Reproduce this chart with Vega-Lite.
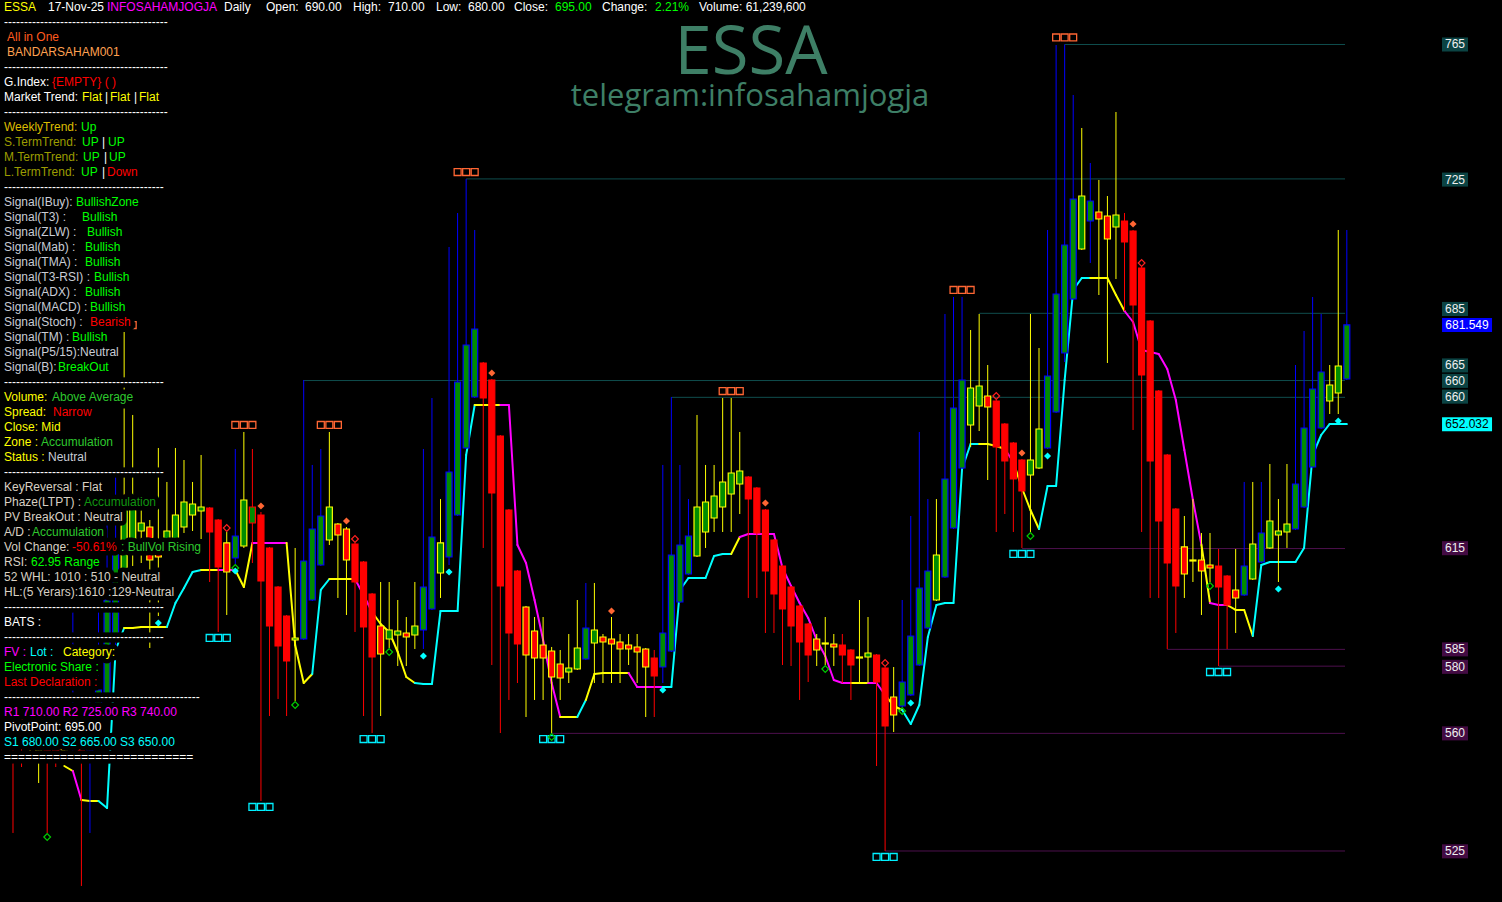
{
"$schema": "https://vega.github.io/schema/vega-lite/v6.json",
"width": 1502, "height": 902, "padding": 0,
"autosize": {"type": "none"},
"background": "#000000",
"config": {"view": {"stroke": null}, "scale": {"continuousPadding": 0}},
"datasets": {
"candles": [
{"i":0,"o":563.98,"h":568.45,"l":530.36,"c":556.54,"k":"RR"},
{"i":1,"o":565.47,"h":567.55,"l":549.99,"c":558.03,"k":"RR"},
{"i":2,"o":556.54,"h":565.47,"l":552.67,"c":562.49,"k":"GY"},
{"i":3,"o":562.49,"h":566.36,"l":545.23,"c":555.05,"k":"RY"},
{"i":4,"o":565.47,"h":566.96,"l":530.36,"c":553.56,"k":"RR","b":"gd"},
{"i":5,"o":558.03,"h":562.49,"l":549.99,"c":552.67,"k":"RR"},
{"i":6,"o":555.05,"h":563.98,"l":552.08,"c":559.52,"k":"GY"},
{"i":7,"o":556.54,"h":596.72,"l":552.67,"c":565.47,"k":"GB"},
{"i":8,"o":563.98,"h":566.36,"l":514.59,"c":552.67,"k":"RR"},
{"i":9,"o":555.05,"h":569.94,"l":530.36,"c":565.47,"k":"GB"},
{"i":10,"o":563.98,"h":596.12,"l":558.03,"c":572.91,"k":"GB"},
{"i":11,"o":571.43,"h":626.47,"l":569.94,"c":599.69,"k":"GB"},
{"i":12,"o":587.79,"h":638.38,"l":584.81,"c":616.06,"k":"GB"},
{"i":13,"o":602.67,"h":679.44,"l":599.69,"c":629.45,"k":"GY","t":"ob"},
{"i":14,"o":617.55,"h":654.75,"l":609.81,"c":629.45,"k":"GY"},
{"i":15,"o":620.22,"h":627.96,"l":610.70,"c":622.60,"k":"GY"},
{"i":16,"o":621.41,"h":623.50,"l":585.41,"c":611.60,"k":"RY"},
{"i":17,"o":614.27,"h":644.93,"l":594.93,"c":612.49,"k":"RY","b":"cd"},
{"i":18,"o":617.55,"h":634.81,"l":616.06,"c":620.22,"k":"GY"},
{"i":19,"o":617.55,"h":644.93,"l":613.08,"c":624.98,"k":"GY"},
{"i":20,"o":621.41,"h":641.35,"l":619.63,"c":628.85,"k":"GY"},
{"i":21,"o":624.98,"h":634.81,"l":620.22,"c":628.26,"k":"GY"},
{"i":22,"o":626.17,"h":642.84,"l":617.84,"c":627.36,"k":"GY"},
{"i":23,"o":627.07,"h":627.36,"l":605.05,"c":619.93,"k":"RR"},
{"i":24,"o":623.50,"h":623.79,"l":590.17,"c":609.51,"k":"RR","b":"cb"},
{"i":25,"o":616.66,"h":619.93,"l":595.23,"c":608.02,"k":"RY","t":"rd"},
{"i":26,"o":612.19,"h":644.63,"l":610.41,"c":618.74,"k":"GB","b":"gd","b2":"cd"},
{"i":27,"o":615.76,"h":649.69,"l":615.17,"c":629.45,"k":"GY","t":"ob"},
{"i":28,"o":622.60,"h":644.63,"l":610.70,"c":627.36,"k":"GR"},
{"i":29,"o":624.98,"h":625.88,"l":539.88,"c":605.35,"k":"RR","t":"od","b":"cb"},
{"i":30,"o":615.17,"h":615.47,"l":565.17,"c":591.96,"k":"RR"},
{"i":31,"o":603.56,"h":603.86,"l":570.24,"c":586.00,"k":"RR"},
{"i":32,"o":594.93,"h":595.23,"l":565.17,"c":581.54,"k":"RR"},
{"i":33,"o":587.79,"h":615.17,"l":569.64,"c":588.38,"k":"GY","b":"gd"},
{"i":34,"o":588.09,"h":665.16,"l":587.79,"c":611.30,"k":"GB"},
{"i":35,"o":599.69,"h":639.87,"l":599.39,"c":620.82,"k":"GB"},
{"i":36,"o":610.11,"h":644.63,"l":609.81,"c":624.69,"k":"GB"},
{"i":37,"o":617.55,"h":649.69,"l":616.06,"c":627.36,"k":"GY","t":"ob"},
{"i":38,"o":622.31,"h":622.60,"l":600.29,"c":619.03,"k":"RY"},
{"i":39,"o":620.82,"h":621.41,"l":595.23,"c":611.60,"k":"RY","t":"od"},
{"i":40,"o":616.36,"h":616.66,"l":590.17,"c":605.05,"k":"RR","t":"rd"},
{"i":41,"o":611.00,"h":611.30,"l":565.17,"c":591.66,"k":"RR"},
{"i":42,"o":601.48,"h":601.78,"l":560.11,"c":582.73,"k":"RR","b":"cb"},
{"i":43,"o":591.96,"h":605.05,"l":565.17,"c":583.62,"k":"RY"},
{"i":44,"o":588.09,"h":605.05,"l":585.41,"c":590.76,"k":"GY","b":"gd"},
{"i":45,"o":589.28,"h":599.69,"l":580.05,"c":590.47,"k":"GY"},
{"i":46,"o":589.87,"h":594.63,"l":580.05,"c":588.68,"k":"RY"},
{"i":47,"o":589.28,"h":605.05,"l":585.11,"c":591.96,"k":"GY"},
{"i":48,"o":590.76,"h":644.63,"l":585.11,"c":603.56,"k":"GB","b":"cd"},
{"i":49,"o":597.01,"h":659.80,"l":596.72,"c":618.44,"k":"GB"},
{"i":50,"o":607.73,"h":629.74,"l":600.29,"c":616.66,"k":"GY"},
{"i":51,"o":612.49,"h":704.74,"l":610.11,"c":637.78,"k":"GB","b":"cd"},
{"i":52,"o":624.98,"h":714.85,"l":624.69,"c":664.56,"k":"GB"},
{"i":53,"o":644.93,"h":724.97,"l":644.63,"c":675.58,"k":"GB","t":"ob"},
{"i":54,"o":660.10,"h":709.80,"l":659.80,"c":680.33,"k":"GB"},
{"i":55,"o":670.22,"h":670.52,"l":615.17,"c":659.80,"k":"RR"},
{"i":56,"o":665.16,"h":665.46,"l":580.35,"c":631.53,"k":"RR","t":"od"},
{"i":57,"o":648.50,"h":648.79,"l":560.11,"c":603.86,"k":"RR"},
{"i":58,"o":626.47,"h":626.77,"l":569.94,"c":589.87,"k":"RR"},
{"i":59,"o":608.32,"h":608.62,"l":574.99,"c":586.60,"k":"RR"},
{"i":60,"o":597.61,"h":597.91,"l":564.87,"c":583.32,"k":"RY"},
{"i":61,"o":590.47,"h":594.63,"l":569.94,"c":582.43,"k":"RY"},
{"i":62,"o":586.30,"h":594.63,"l":569.94,"c":582.43,"k":"RY"},
{"i":63,"o":584.52,"h":585.71,"l":560.11,"c":576.78,"k":"RY","b":"cb","b2":"gd"},
{"i":64,"o":580.65,"h":584.81,"l":569.94,"c":576.48,"k":"RY"},
{"i":65,"o":578.27,"h":589.57,"l":574.99,"c":579.46,"k":"GY"},
{"i":66,"o":579.16,"h":599.69,"l":578.86,"c":585.41,"k":"GY"},
{"i":67,"o":582.13,"h":604.75,"l":581.84,"c":591.36,"k":"GB"},
{"i":68,"o":586.89,"h":604.75,"l":574.99,"c":590.76,"k":"GY"},
{"i":69,"o":588.68,"h":589.57,"l":574.99,"c":587.19,"k":"RY"},
{"i":70,"o":588.09,"h":594.63,"l":574.99,"c":586.60,"k":"RY","t":"od"},
{"i":71,"o":587.19,"h":589.57,"l":574.99,"c":585.11,"k":"RY"},
{"i":72,"o":586.30,"h":589.57,"l":580.35,"c":585.11,"k":"RY"},
{"i":73,"o":585.71,"h":589.57,"l":574.99,"c":584.22,"k":"RY"},
{"i":74,"o":585.11,"h":585.41,"l":564.87,"c":579.75,"k":"RY"},
{"i":75,"o":582.43,"h":584.81,"l":564.87,"c":577.08,"k":"RR"},
{"i":76,"o":579.75,"h":639.87,"l":574.99,"c":589.87,"k":"GB","b":"cd"},
{"i":77,"o":584.52,"h":660.10,"l":584.22,"c":613.08,"k":"GB"},
{"i":78,"o":599.10,"h":639.87,"l":598.80,"c":616.06,"k":"GB"},
{"i":79,"o":607.43,"h":629.74,"l":607.13,"c":618.74,"k":"GB"},
{"i":80,"o":612.79,"h":654.75,"l":612.49,"c":627.36,"k":"GY"},
{"i":81,"o":619.93,"h":639.87,"l":615.17,"c":628.85,"k":"GY"},
{"i":82,"o":624.09,"h":639.87,"l":619.93,"c":630.64,"k":"GY"},
{"i":83,"o":627.36,"h":659.80,"l":619.93,"c":634.81,"k":"GY"},
{"i":84,"o":631.23,"h":659.80,"l":619.93,"c":637.49,"k":"GY","t":"ob"},
{"i":85,"o":634.21,"h":649.69,"l":625.28,"c":638.08,"k":"GY"},
{"i":86,"o":636.29,"h":636.59,"l":600.29,"c":629.74,"k":"RR"},
{"i":87,"o":633.02,"h":633.32,"l":600.29,"c":619.63,"k":"RR"},
{"i":88,"o":626.47,"h":626.77,"l":589.87,"c":608.32,"k":"RR","t":"od"},
{"i":89,"o":617.55,"h":617.84,"l":589.87,"c":601.48,"k":"RR"},
{"i":90,"o":609.81,"h":610.11,"l":580.35,"c":597.01,"k":"RR"},
{"i":91,"o":603.56,"h":603.86,"l":580.05,"c":591.96,"k":"RR"},
{"i":92,"o":597.91,"h":598.20,"l":569.94,"c":587.19,"k":"RR"},
{"i":93,"o":592.55,"h":592.85,"l":575.29,"c":583.32,"k":"RR"},
{"i":94,"o":588.09,"h":589.57,"l":580.05,"c":584.81,"k":"RY"},
{"i":95,"o":586.60,"h":594.63,"l":580.35,"c":586.89,"k":"GY","b":"gd"},
{"i":96,"o":586.60,"h":589.57,"l":580.05,"c":585.71,"k":"RY"},
{"i":97,"o":586.30,"h":589.57,"l":574.99,"c":583.32,"k":"RR"},
{"i":98,"o":584.81,"h":585.11,"l":569.94,"c":580.35,"k":"RR"},
{"i":99,"o":582.43,"h":599.69,"l":574.99,"c":582.73,"k":"GY"},
{"i":100,"o":582.73,"h":594.63,"l":574.99,"c":583.92,"k":"GY"},
{"i":101,"o":583.32,"h":583.62,"l":550.29,"c":575.29,"k":"RR"},
{"i":102,"o":579.46,"h":579.75,"l":525.00,"c":562.20,"k":"RR","t":"rd","b":"cb"},
{"i":103,"o":570.83,"h":579.75,"l":560.41,"c":565.47,"k":"RY"},
{"i":104,"o":568.15,"h":599.69,"l":567.85,"c":575.29,"k":"GB","b":"gd"},
{"i":105,"o":571.43,"h":624.69,"l":571.13,"c":588.98,"k":"GB","b":"cd"},
{"i":106,"o":580.35,"h":649.69,"l":580.05,"c":603.26,"k":"GB"},
{"i":107,"o":591.36,"h":629.74,"l":591.06,"c":608.32,"k":"GB"},
{"i":108,"o":599.69,"h":629.74,"l":599.39,"c":613.08,"k":"GY"},
{"i":109,"o":606.54,"h":684.80,"l":606.24,"c":635.70,"k":"GB"},
{"i":110,"o":621.12,"h":689.86,"l":620.82,"c":656.83,"k":"GB"},
{"i":111,"o":638.97,"h":689.86,"l":638.67,"c":665.16,"k":"GB","t":"ob"},
{"i":112,"o":651.77,"h":680.04,"l":645.22,"c":662.78,"k":"GY"},
{"i":113,"o":657.42,"h":684.80,"l":649.98,"c":663.37,"k":"GY"},
{"i":114,"o":660.40,"h":669.62,"l":635.40,"c":657.12,"k":"RY"},
{"i":115,"o":658.91,"h":659.21,"l":619.93,"c":645.22,"k":"RR","t":"rd"},
{"i":116,"o":652.07,"h":652.36,"l":625.28,"c":641.06,"k":"RR"},
{"i":117,"o":646.41,"h":646.71,"l":619.93,"c":635.70,"k":"RR"},
{"i":118,"o":641.35,"h":641.65,"l":615.17,"c":632.13,"k":"RR","t":"od","b":"cb"},
{"i":119,"o":636.89,"h":684.80,"l":619.93,"c":641.35,"k":"GY","b":"gd"},
{"i":120,"o":638.97,"h":674.68,"l":638.67,"c":650.58,"k":"GY"},
{"i":121,"o":644.93,"h":709.80,"l":644.63,"c":666.35,"k":"GB","b":"cd"},
{"i":122,"o":655.64,"h":764.85,"l":655.34,"c":690.75,"k":"GB"},
{"i":123,"o":673.19,"h":765.00,"l":670.52,"c":705.33,"k":"GB","t":"ob"},
{"i":124,"o":689.26,"h":749.97,"l":688.97,"c":719.02,"k":"GB"},
{"i":125,"o":704.14,"h":740.15,"l":703.85,"c":719.91,"k":"GY"},
{"i":126,"o":712.47,"h":729.73,"l":699.98,"c":718.43,"k":"GB"},
{"i":127,"o":715.15,"h":724.68,"l":690.45,"c":713.07,"k":"RY"},
{"i":128,"o":713.96,"h":719.91,"l":670.22,"c":707.12,"k":"RY"},
{"i":129,"o":710.69,"h":744.91,"l":695.21,"c":714.26,"k":"GY"},
{"i":130,"o":712.47,"h":714.85,"l":685.69,"c":706.23,"k":"RR"},
{"i":131,"o":709.50,"h":709.80,"l":650.28,"c":687.48,"k":"RR","t":"od"},
{"i":132,"o":698.49,"h":698.79,"l":619.93,"c":666.65,"k":"RR","t":"rd"},
{"i":133,"o":682.72,"h":683.01,"l":600.29,"c":641.06,"k":"RR"},
{"i":134,"o":661.89,"h":662.18,"l":600.29,"c":623.20,"k":"RR"},
{"i":135,"o":642.84,"h":643.14,"l":585.11,"c":610.70,"k":"RR"},
{"i":136,"o":626.77,"h":627.07,"l":589.87,"c":603.86,"k":"RR"},
{"i":137,"o":615.47,"h":624.69,"l":600.29,"c":607.43,"k":"RY"},
{"i":138,"o":611.30,"h":629.74,"l":605.05,"c":611.60,"k":"GY"},
{"i":139,"o":611.60,"h":619.63,"l":595.23,"c":608.32,"k":"RY"},
{"i":140,"o":610.11,"h":619.63,"l":605.05,"c":609.21,"k":"RY","b":"gd"},
{"i":141,"o":609.81,"h":614.87,"l":580.05,"c":603.56,"k":"RR","b":"cb"},
{"i":142,"o":606.83,"h":607.13,"l":585.11,"c":598.20,"k":"RR"},
{"i":143,"o":602.67,"h":614.87,"l":589.87,"c":600.29,"k":"RY"},
{"i":144,"o":601.18,"h":634.81,"l":600.88,"c":609.81,"k":"GB"},
{"i":145,"o":605.94,"h":634.81,"l":605.64,"c":616.36,"k":"GY"},
{"i":146,"o":611.00,"h":634.81,"l":610.70,"c":619.63,"k":"GB"},
{"i":147,"o":615.17,"h":640.16,"l":614.87,"c":623.20,"k":"GY"},
{"i":148,"o":619.03,"h":629.74,"l":605.05,"c":620.22,"k":"GY","b":"cd"},
{"i":149,"o":619.93,"h":640.16,"l":615.17,"c":622.31,"k":"GY"},
{"i":150,"o":620.82,"h":669.62,"l":620.52,"c":634.21,"k":"GB"},
{"i":151,"o":627.36,"h":679.74,"l":627.07,"c":650.88,"k":"GB"},
{"i":152,"o":639.27,"h":689.86,"l":638.97,"c":662.48,"k":"GB"},
{"i":153,"o":650.88,"h":684.80,"l":650.58,"c":667.54,"k":"GB"},
{"i":154,"o":658.91,"h":669.62,"l":655.04,"c":663.67,"k":"GY"},
{"i":155,"o":661.29,"h":709.80,"l":655.04,"c":669.33,"k":"GY","b":"cd"},
{"i":156,"o":665.46,"h":709.80,"l":665.16,"c":681.55,"k":"GB"}
],
"ts": [
{"i":6,"v":550.29,"s":"y"},{"i":7,"v":548.8,"s":"m"},{"i":8,"v":540.18,"s":"y"},{"i":9,"v":539.88,"s":"y"},{"i":10,"v":539.88,"s":"c"},{"i":11,"v":537.8,"s":"c"},{"i":12,"v":584.81,"s":"c"},{"i":13,"v":591.36,"s":"y"},{"i":14,"v":591.36,"s":"y"},{"i":15,"v":591.66,"s":"y"},{"i":16,"v":591.66,"s":"y"},{"i":17,"v":591.66,"s":"y"},{"i":18,"v":591.66,"s":"c"},{"i":19,"v":598.8,"s":"c"},{"i":20,"v":603.26,"s":"c"},{"i":21,"v":608.02,"s":"c"},{"i":22,"v":608.62,"s":"y"},{"i":23,"v":608.62,"s":"y"},{"i":24,"v":608.62,"s":"m"},{"i":25,"v":608.62,"s":"m"},{"i":26,"v":608.62,"s":"y"},{"i":27,"v":603.56,"s":"y"},{"i":28,"v":616.66,"s":"m"},{"i":29,"v":616.66,"s":"m"},{"i":30,"v":616.66,"s":"m"},{"i":31,"v":616.66,"s":"m"},{"i":32,"v":616.66,"s":"y"},{"i":33,"v":586.3,"s":"y"},{"i":34,"v":574.99,"s":"y"},{"i":35,"v":577.67,"s":"c"},{"i":36,"v":602.67,"s":"c"},{"i":37,"v":605.94,"s":"y"},{"i":38,"v":605.94,"s":"y"},{"i":39,"v":605.94,"s":"y"},{"i":40,"v":605.94,"s":"m"},{"i":41,"v":601.18,"s":"m"},{"i":42,"v":596.12,"s":"y"},{"i":43,"v":592.55,"s":"y"},{"i":44,"v":590.17,"s":"y"},{"i":45,"v":584.22,"s":"y"},{"i":46,"v":576.78,"s":"y"},{"i":47,"v":574.99,"s":"c"},{"i":48,"v":574.7,"s":"c"},{"i":49,"v":574.7,"s":"c"},{"i":50,"v":596.42,"s":"c"},{"i":51,"v":596.42,"s":"c"},{"i":52,"v":596.42,"s":"c"},{"i":53,"v":642.84,"s":"c"},{"i":54,"v":657.72,"s":"y"},{"i":55,"v":657.72,"s":"y"},{"i":56,"v":657.72,"s":"y"},{"i":57,"v":657.72,"s":"m"},{"i":58,"v":657.72,"s":"m"},{"i":59,"v":616.06,"s":"m"},{"i":60,"v":610.7,"s":"m"},{"i":61,"v":599.69,"s":"m"},{"i":62,"v":587.79,"s":"m"},{"i":63,"v":574.99,"s":"m"},{"i":64,"v":564.87,"s":"y"},{"i":65,"v":564.87,"s":"y"},{"i":66,"v":564.87,"s":"c"},{"i":67,"v":569.94,"s":"y"},{"i":68,"v":577.67,"s":"y"},{"i":69,"v":577.97,"s":"y"},{"i":70,"v":577.97,"s":"y"},{"i":71,"v":577.97,"s":"y"},{"i":72,"v":577.97,"s":"m"},{"i":73,"v":573.8,"s":"m"},{"i":74,"v":573.8,"s":"m"},{"i":75,"v":573.8,"s":"m"},{"i":76,"v":573.8,"s":"c"},{"i":77,"v":573.8,"s":"c"},{"i":78,"v":602.67,"s":"c"},{"i":79,"v":606.24,"s":"c"},{"i":80,"v":606.24,"s":"c"},{"i":81,"v":606.24,"s":"c"},{"i":82,"v":612.79,"s":"c"},{"i":83,"v":613.38,"s":"c"},{"i":84,"v":613.38,"s":"y"},{"i":85,"v":618.44,"s":"m"},{"i":86,"v":619.33,"s":"m"},{"i":87,"v":619.33,"s":"m"},{"i":88,"v":619.33,"s":"m"},{"i":89,"v":619.33,"s":"m"},{"i":90,"v":609.21,"s":"m"},{"i":91,"v":603.86,"s":"m"},{"i":92,"v":598.8,"s":"m"},{"i":93,"v":594.34,"s":"m"},{"i":94,"v":587.79,"s":"m"},{"i":95,"v":583.03,"s":"m"},{"i":96,"v":575.89,"s":"m"},{"i":97,"v":574.99,"s":"m"},{"i":98,"v":574.99,"s":"y"},{"i":99,"v":574.99,"s":"y"},{"i":100,"v":574.99,"s":"m"},{"i":101,"v":574.99,"s":"m"},{"i":102,"v":571.43,"s":"y"},{"i":103,"v":568.15,"s":"y"},{"i":104,"v":566.96,"s":"c"},{"i":105,"v":562.79,"s":"c"},{"i":106,"v":568.45,"s":"c"},{"i":107,"v":588.68,"s":"c"},{"i":108,"v":598.2,"s":"c"},{"i":109,"v":598.8,"s":"c"},{"i":110,"v":598.8,"s":"c"},{"i":111,"v":638.67,"s":"c"},{"i":112,"v":646.12,"s":"c"},{"i":113,"v":646.12,"s":"y"},{"i":114,"v":646.12,"s":"y"},{"i":115,"v":645.52,"s":"y"},{"i":116,"v":644.63,"s":"m"},{"i":117,"v":640.76,"s":"y"},{"i":118,"v":633.02,"s":"y"},{"i":119,"v":626.47,"s":"y"},{"i":120,"v":620.82,"s":"c"},{"i":121,"v":633.62,"s":"c"},{"i":122,"v":633.62,"s":"c"},{"i":123,"v":665.16,"s":"c"},{"i":124,"v":691.94,"s":"c"},{"i":125,"v":695.51,"s":"c"},{"i":126,"v":695.51,"s":"y"},{"i":127,"v":695.51,"s":"y"},{"i":128,"v":695.51,"s":"y"},{"i":129,"v":690.45,"s":"y"},{"i":130,"v":685.69,"s":"m"},{"i":131,"v":682.42,"s":"m"},{"i":132,"v":674.09,"s":"m"},{"i":133,"v":673.49,"s":"m"},{"i":134,"v":672.9,"s":"m"},{"i":135,"v":668.43,"s":"m"},{"i":136,"v":659.21,"s":"m"},{"i":137,"v":644.33,"s":"m"},{"i":138,"v":629.45,"s":"m"},{"i":139,"v":616.06,"s":"y"},{"i":140,"v":598.8,"s":"m"},{"i":141,"v":598.2,"s":"m"},{"i":142,"v":598.2,"s":"y"},{"i":143,"v":596.72,"s":"y"},{"i":144,"v":596.72,"s":"y"},{"i":145,"v":588.98,"s":"c"},{"i":146,"v":610.11,"s":"c"},{"i":147,"v":611,"s":"c"},{"i":148,"v":611,"s":"c"},{"i":149,"v":611,"s":"c"},{"i":150,"v":611,"s":"c"},{"i":151,"v":615.17,"s":"c"},{"i":152,"v":642.84,"s":"c"},{"i":153,"v":648.79,"s":"c"},{"i":154,"v":652.07,"s":"c"},{"i":155,"v":652.07,"s":"c"},{"i":156,"v":652.03,"s":"c"}
],
"lv": [
{"v":765,"s":123,"k":"T"},{"v":725,"s":53,"k":"T"},{"v":685,"s":113,"k":"T"},{"v":665,"s":34,"k":"T"},{"v":660,"s":77,"k":"T"},
{"v":615,"s":118,"k":"P"},{"v":585,"s":135,"k":"P"},{"v":580,"s":141,"k":"P"},{"v":560,"s":63,"k":"P"},{"v":525,"s":102,"k":"P"}
],
"lb": [
{"t":"765","at":765,"k":"T"},{"t":"725","at":724.8,"k":"T"},{"t":"685","at":686.3,"k":"T"},{"t":"681.549","at":681.5,"k":"B"},
{"t":"665","at":669.5,"k":"T"},{"t":"660","at":664.9,"k":"T"},{"t":"660","at":660.2,"k":"T"},{"t":"652.032","at":652.0,"k":"C"},
{"t":"615","at":615.1,"k":"P"},{"t":"585","at":585,"k":"P"},{"t":"580","at":579.8,"k":"P"},{"t":"560","at":560,"k":"P"},{"t":"525","at":524.9,"k":"P"}
],
"tx": [
{"r":0,"x":4,"t":"ESSA","c":"Y"},{"r":0,"x":48,"t":"17-Nov-25","c":"W"},{"r":0,"x":107,"t":"INFOSAHAMJOGJA","c":"M"},{"r":0,"x":224,"t":"Daily","c":"W"},
{"r":0,"x":266,"t":"Open:","c":"W"},{"r":0,"x":305,"t":"690.00","c":"W"},{"r":0,"x":353,"t":"High:","c":"W"},{"r":0,"x":388,"t":"710.00","c":"W"},
{"r":0,"x":436,"t":"Low:","c":"W"},{"r":0,"x":468,"t":"680.00","c":"W"},{"r":0,"x":514,"t":"Close:","c":"W"},{"r":0,"x":555,"t":"695.00","c":"G"},
{"r":0,"x":602,"t":"Change:","c":"W"},{"r":0,"x":655,"t":"2.21%","c":"G"},{"r":0,"x":699,"t":"Volume: 61,239,600","c":"W"},
{"r":1,"x":4,"t":"-----------------------------------------","c":"W"},
{"r":2,"x":7,"t":"All in One","c":"O"},
{"r":3,"x":7,"t":"BANDARSAHAM001","c":"LO"},
{"r":4,"x":4,"t":"-----------------------------------------","c":"W"},
{"r":5,"x":4,"t":"G.Index:","c":"W"},{"r":5,"x":52,"t":"{EMPTY} ( )","c":"R"},
{"r":6,"x":4,"t":"Market Trend:","c":"W"},{"r":6,"x":82,"t":"Flat","c":"Y"},{"r":6,"x":105,"t":"|","c":"W"},{"r":6,"x":110,"t":"Flat","c":"Y"},{"r":6,"x":134,"t":"|","c":"W"},{"r":6,"x":139,"t":"Flat","c":"Y"},
{"r":7,"x":4,"t":"-----------------------------------------","c":"W"},
{"r":8,"x":4,"t":"WeeklyTrend:","c":"GO"},{"r":8,"x":81,"t":"Up","c":"G"},
{"r":9,"x":4,"t":"S.TermTrend:","c":"OL"},{"r":9,"x":82,"t":"UP","c":"G"},{"r":9,"x":102,"t":"|","c":"W"},{"r":9,"x":108,"t":"UP","c":"G"},
{"r":10,"x":4,"t":"M.TermTrend:","c":"OL"},{"r":10,"x":83,"t":"UP","c":"G"},{"r":10,"x":104,"t":"|","c":"W"},{"r":10,"x":109,"t":"UP","c":"G"},
{"r":11,"x":4,"t":"L.TermTrend:","c":"OL"},{"r":11,"x":81,"t":"UP","c":"G"},{"r":11,"x":102,"t":"|","c":"W"},{"r":11,"x":107,"t":"Down","c":"R"},
{"r":12,"x":4,"t":"----------------------------------------","c":"W"},
{"r":13,"x":4,"t":"Signal(IBuy):","c":"GR"},{"r":13,"x":76,"t":"BullishZone","c":"G"},
{"r":14,"x":4,"t":"Signal(T3)   :","c":"GR"},{"r":14,"x":82,"t":"Bullish","c":"G"},
{"r":15,"x":4,"t":"Signal(ZLW) :","c":"GR"},{"r":15,"x":87,"t":"Bullish","c":"G"},
{"r":16,"x":4,"t":"Signal(Mab) :","c":"GR"},{"r":16,"x":85,"t":"Bullish","c":"G"},
{"r":17,"x":4,"t":"Signal(TMA) :","c":"GR"},{"r":17,"x":85,"t":"Bullish","c":"G"},
{"r":18,"x":4,"t":"Signal(T3-RSI) :","c":"GR"},{"r":18,"x":94,"t":"Bullish","c":"G"},
{"r":19,"x":4,"t":"Signal(ADX) :","c":"GR"},{"r":19,"x":85,"t":"Bullish","c":"G"},
{"r":20,"x":4,"t":"Signal(MACD) :","c":"GR"},{"r":20,"x":90,"t":"Bullish","c":"G"},
{"r":21,"x":4,"t":"Signal(Stoch) :","c":"GR"},{"r":21,"x":90,"t":"Bearish","c":"R"},
{"r":22,"x":4,"t":"Signal(TM) :","c":"GR"},{"r":22,"x":72,"t":"Bullish","c":"G"},
{"r":23,"x":4,"t":"Signal(P5/15):Neutral","c":"GR"},
{"r":24,"x":4,"t":"Signal(B):","c":"GR"},{"r":24,"x":58,"t":"BreakOut","c":"G"},
{"r":25,"x":4,"t":"----------------------------------------","c":"W"},
{"r":26,"x":4,"t":"Volume:","c":"Y"},{"r":26,"x":52,"t":"Above Average","c":"G2"},
{"r":27,"x":4,"t":"Spread:","c":"Y"},{"r":27,"x":53,"t":"Narrow","c":"R"},
{"r":28,"x":4,"t":"Close: Mid","c":"Y"},
{"r":29,"x":4,"t":"Zone :","c":"Y"},{"r":29,"x":41,"t":"Accumulation","c":"G2"},
{"r":30,"x":4,"t":"Status :","c":"Y"},{"r":30,"x":48,"t":"Neutral","c":"GR"},
{"r":31,"x":4,"t":"----------------------------------------","c":"W"},
{"r":32,"x":4,"t":"KeyReversal : Flat","c":"BG"},
{"r":33,"x":4,"t":"Phaze(LTPT) :","c":"BG"},{"r":33,"x":84,"t":"Accumulation","c":"DG"},
{"r":34,"x":4,"t":"PV BreakOut : Neutral","c":"BG"},
{"r":35,"x":4,"t":"A/D :","c":"BG"},{"r":35,"x":32,"t":"Accumulation","c":"G2"},
{"r":36,"x":4,"t":"Vol Change:","c":"BG"},{"r":36,"x":72,"t":"-50.61%","c":"R"},{"r":36,"x":121,"t":": BullVol Rising","c":"G2"},
{"r":37,"x":4,"t":"RSI:","c":"BG"},{"r":37,"x":31,"t":"62.95  Range","c":"G"},
{"r":38,"x":4,"t":"52 WHL: 1010 : 510 - Neutral","c":"BG"},
{"r":39,"x":4,"t":"HL:(5 Yerars):1610 :129-Neutral","c":"BG"},
{"r":40,"x":4,"t":"----------------------------------------","c":"W"},
{"r":41,"x":4,"t":"BATS :","c":"W"},
{"r":42,"x":4,"t":"----------------------------------------","c":"W"},
{"r":43,"x":4,"t":"FV :","c":"M"},{"r":43,"x":30,"t":"Lot :","c":"C"},{"r":43,"x":63,"t":"Category:","c":"Y"},
{"r":44,"x":4,"t":"Electronic Share :","c":"G"},
{"r":45,"x":4,"t":"Last Declaration :","c":"R"},
{"r":46,"x":4,"t":"-------------------------------------------------","c":"W"},
{"r":47,"x":4,"t":"R1 710.00 R2 725.00 R3 740.00","c":"M"},
{"r":48,"x":4,"t":"PivotPoint: 695.00","c":"W"},
{"r":49,"x":4,"t":"S1 680.00 S2 665.00 S3 650.00","c":"C"},
{"r":50,"x":4,"t":"===========================","c":"W"}
],
"tt": [
{"r":4.467,"x":751,"t":"ESSA","s":"big"},
{"r":6.6,"x":750,"t":"telegram:infosahamjogja","s":"small"}
]
},
"resolve": {"scale": {"x": "independent", "y": "independent", "color": "independent"}},
"layer": [
{"layer": [
 {"data":{"name":"lv"},"mark":{"type":"rule","strokeWidth":1},
  "encoding":{"x":{"field":"s","type":"quantitative","scale":{"domain":[-1.52,174.15],"nice":false,"zero":false,"padding":0},"axis":null},"x2":{"datum":155.79},
   "y":{"field":"v","type":"quantitative","scale":{"domain":[509.82,778.24],"nice":false,"zero":false,"padding":0},"axis":null},
   "stroke":{"field":"k","type":"nominal","scale":{"domain":["GB","GY","RR","RY","GR","T","P"],"range":["#0000ff","#ffff00","#ff0000","#ffff00","#ff0000","#0f4d4d","#4d104d"]},"legend":null}}},
 {"data":{"name":"ts"},
  "transform":[{"window":[{"op":"lead","field":"i","as":"i2"},{"op":"lead","field":"v","as":"v2"}],"sort":[{"field":"i","order":"ascending"}]},{"filter":"datum.i2 != null"}],
  "mark":{"type":"rule","strokeWidth":2,"strokeCap":"round"},
  "encoding":{"x":{"field":"i","type":"quantitative","scale":{"domain":[-1.52,174.15],"nice":false,"zero":false,"padding":0},"axis":null},"x2":{"field":"i2"},
   "y":{"field":"v","type":"quantitative","scale":{"domain":[509.82,778.24],"nice":false,"zero":false,"padding":0},"axis":null},"y2":{"field":"v2"},
   "color":{"field":"s","type":"nominal","scale":{"domain":["c","m","y"],"range":["#00ffff","#ff00ff","#ffff00"]},"legend":null}}},
 {"data":{"name":"candles"},"mark":{"type":"rule","strokeWidth":1},
  "encoding":{"x":{"field":"i","type":"quantitative","scale":{"domain":[-1.52,174.15],"nice":false,"zero":false,"padding":0},"axis":null},
   "y":{"field":"l","type":"quantitative","scale":{"domain":[509.82,778.24],"nice":false,"zero":false,"padding":0},"axis":null},"y2":{"field":"h"},
   "stroke":{"field":"k","type":"nominal","scale":{"domain":["GB","GY","RR","RY","GR","T","P"],"range":["#0000ff","#ffff00","#ff0000","#ffff00","#ff0000","#0f4d4d","#4d104d"]},"legend":null}}},
 {"data":{"name":"candles"},"mark":{"type":"bar","orient":"vertical","width":6,"strokeWidth":1.2},
  "encoding":{"x":{"field":"i","type":"quantitative","scale":{"domain":[-1.52,174.15],"nice":false,"zero":false,"padding":0},"axis":null},
   "y":{"field":"o","type":"quantitative","scale":{"domain":[509.82,778.24],"nice":false,"zero":false,"padding":0},"axis":null},"y2":{"field":"c"},
   "fill":{"field":"k","type":"nominal","scale":{"domain":["GB","GY","RR","RY","GR"],"range":["#008c00","#008c00","#ff0000","#ff0000","#008c00"]},"legend":null},
   "stroke":{"field":"k","type":"nominal","scale":{"domain":["GB","GY","RR","RY","GR","T","P"],"range":["#0000ff","#ffff00","#ff0000","#ffff00","#ff0000","#0f4d4d","#4d104d"]},"legend":null}}},
 {"data":{"name":"candles"},"transform":[{"filter":"datum.t=='ob'"}],
  "mark":{"type":"point","shape":"M-1,-0.29H-0.42V0.29H-1Z M-0.29,-0.29H0.29V0.29H-0.29Z M0.42,-0.29H1V0.29H0.42Z","size":576,"filled":false,"color":"#ff6633","strokeWidth":1.3,"opacity":1,"yOffset":-7},
  "encoding":{"x":{"field":"i","type":"quantitative","axis":null},"y":{"field":"h","type":"quantitative","axis":null}}},
 {"data":{"name":"candles"},"transform":[{"filter":"datum.t=='od'"}],
  "mark":{"type":"point","shape":"diamond","size":50,"filled":true,"color":"#ff6633","opacity":1,"yOffset":-6},
  "encoding":{"x":{"field":"i","type":"quantitative","axis":null},"y":{"field":"h","type":"quantitative","axis":null}}},
 {"data":{"name":"candles"},"transform":[{"filter":"datum.t=='rd'"}],
  "mark":{"type":"point","shape":"diamond","size":45,"filled":false,"color":"#ff2020","strokeWidth":1.2,"opacity":1,"yOffset":-4},
  "encoding":{"x":{"field":"i","type":"quantitative","axis":null},"y":{"field":"h","type":"quantitative","axis":null}}},
 {"data":{"name":"candles"},"transform":[{"filter":"datum.b=='cb'"}],
  "mark":{"type":"point","shape":"M-1,-0.29H-0.42V0.29H-1Z M-0.29,-0.29H0.29V0.29H-0.29Z M0.42,-0.29H1V0.29H0.42Z","size":576,"filled":false,"color":"#00f0ff","strokeWidth":1.3,"opacity":1,"yOffset":6},
  "encoding":{"x":{"field":"i","type":"quantitative","axis":null},"y":{"field":"l","type":"quantitative","axis":null}}},
 {"data":{"name":"candles"},"transform":[{"filter":"datum.b=='gd' || datum.b2=='gd'"}],
  "mark":{"type":"point","shape":"diamond","size":45,"filled":false,"color":"#00cc00","strokeWidth":1.2,"opacity":1,"yOffset":4},
  "encoding":{"x":{"field":"i","type":"quantitative","axis":null},"y":{"field":"l","type":"quantitative","axis":null}}},
 {"data":{"name":"candles"},"transform":[{"filter":"datum.b=='cd' || datum.b2=='cd'"}],
  "mark":{"type":"point","shape":"diamond","size":50,"filled":true,"color":"#00ffff","opacity":1,"yOffset":7},
  "encoding":{"x":{"field":"i","type":"quantitative","axis":null},"y":{"field":"l","type":"quantitative","axis":null}}},
 {"data":{"name":"lb"},"transform":[{"filter":"datum.k=='T'"}],
  "mark":{"type":"point","shape":"M-1,-0.54H1V0.54H-1Z","size":676,"filled":true,"color":"#0b4343","strokeWidth":0,"opacity":1},
  "encoding":{"x":{"datum":168.65},"y":{"field":"at","type":"quantitative","axis":null}}},
 {"data":{"name":"lb"},"transform":[{"filter":"datum.k=='P'"}],
  "mark":{"type":"point","shape":"M-1,-0.54H1V0.54H-1Z","size":676,"filled":true,"color":"#430b43","strokeWidth":0,"opacity":1},
  "encoding":{"x":{"datum":168.65},"y":{"field":"at","type":"quantitative","axis":null}}},
 {"data":{"name":"lb"},"transform":[{"filter":"datum.k=='B'"}],
  "mark":{"type":"point","shape":"M-1,-0.28H1V0.28H-1Z","size":2500,"filled":true,"color":"#0000ff","strokeWidth":0,"opacity":1},
  "encoding":{"x":{"datum":170.06},"y":{"field":"at","type":"quantitative","axis":null}}},
 {"data":{"name":"lb"},"transform":[{"filter":"datum.k=='C'"}],
  "mark":{"type":"point","shape":"M-1,-0.28H1V0.28H-1Z","size":2500,"filled":true,"color":"#00ffff","strokeWidth":0,"opacity":1},
  "encoding":{"x":{"datum":170.06},"y":{"field":"at","type":"quantitative","axis":null}}},
 {"data":{"name":"lb"},"transform":[{"filter":"datum.k=='T' || datum.k=='P'"}],
  "mark":{"type":"text","font":"Liberation Sans","fontSize":12,"color":"#f0f0f0","align":"center","baseline":"middle"},
  "encoding":{"x":{"datum":168.65},"y":{"field":"at","type":"quantitative","axis":null},"text":{"field":"t"}}},
 {"data":{"name":"lb"},"transform":[{"filter":"datum.k=='B'"}],
  "mark":{"type":"text","font":"Liberation Sans","fontSize":12,"color":"#ffffff","align":"center","baseline":"middle"},
  "encoding":{"x":{"datum":170.06},"y":{"field":"at","type":"quantitative","axis":null},"text":{"field":"t"}}},
 {"data":{"name":"lb"},"transform":[{"filter":"datum.k=='C'"}],
  "mark":{"type":"text","font":"Liberation Sans","fontSize":12,"color":"#000000","align":"center","baseline":"middle"},
  "encoding":{"x":{"datum":170.06},"y":{"field":"at","type":"quantitative","axis":null},"text":{"field":"t"}}}
]},
{"layer": [
 {"data":{"name":"tx"},"transform":[{"filter":"datum.r >= 1"}],
  "mark":{"type":"text","font":"Liberation Sans","fontSize":12,"align":"left","baseline":"middle","fill":"#000000","stroke":"#000000","strokeWidth":9,"strokeJoin":"round"},
  "encoding":{"x":{"field":"x","type":"quantitative","scale":{"domain":[0,1502],"nice":false,"zero":false,"padding":0},"axis":null},
   "y":{"field":"r","type":"quantitative","scale":{"domain":[-0.4667,59.6667],"nice":false,"zero":false,"reverse":true,"padding":0},"axis":null},
   "text":{"field":"t"}}},
 {"data":{"name":"tx"},
  "mark":{"type":"text","font":"Liberation Sans","fontSize":12,"align":"left","baseline":"middle"},
  "encoding":{"x":{"field":"x","type":"quantitative","axis":null},
   "y":{"field":"r","type":"quantitative","axis":null},
   "text":{"field":"t"},
   "color":{"field":"c","type":"nominal","legend":null,"scale":{"domain":["W","Y","M","G","G2","DG","R","O","LO","GO","OL","GR","BG","C"],"range":["#ffffff","#ffff00","#ff00ff","#00ff00","#2ec82e","#119611","#ff0000","#ff5a1e","#ffa050","#dcbc00","#9c9c00","#c9cdd6","#d9d1c4","#00ffff"]}}}},
 {"data":{"name":"tt"},"transform":[{"filter":"datum.s=='big'"}],
  "mark":{"type":"text","font":"Open Sans","fontSize":67,"align":"center","baseline":"alphabetic","color":"#3e7f66"},
  "encoding":{"x":{"field":"x","type":"quantitative","axis":null},"y":{"field":"r","type":"quantitative","axis":null},"text":{"field":"t"}}},
 {"data":{"name":"tt"},"transform":[{"filter":"datum.s=='small'"}],
  "mark":{"type":"text","font":"Open Sans","fontSize":31,"align":"center","baseline":"alphabetic","color":"#3e7f66"},
  "encoding":{"x":{"field":"x","type":"quantitative","axis":null},"y":{"field":"r","type":"quantitative","axis":null},"text":{"field":"t"}}}
]}
]
}
